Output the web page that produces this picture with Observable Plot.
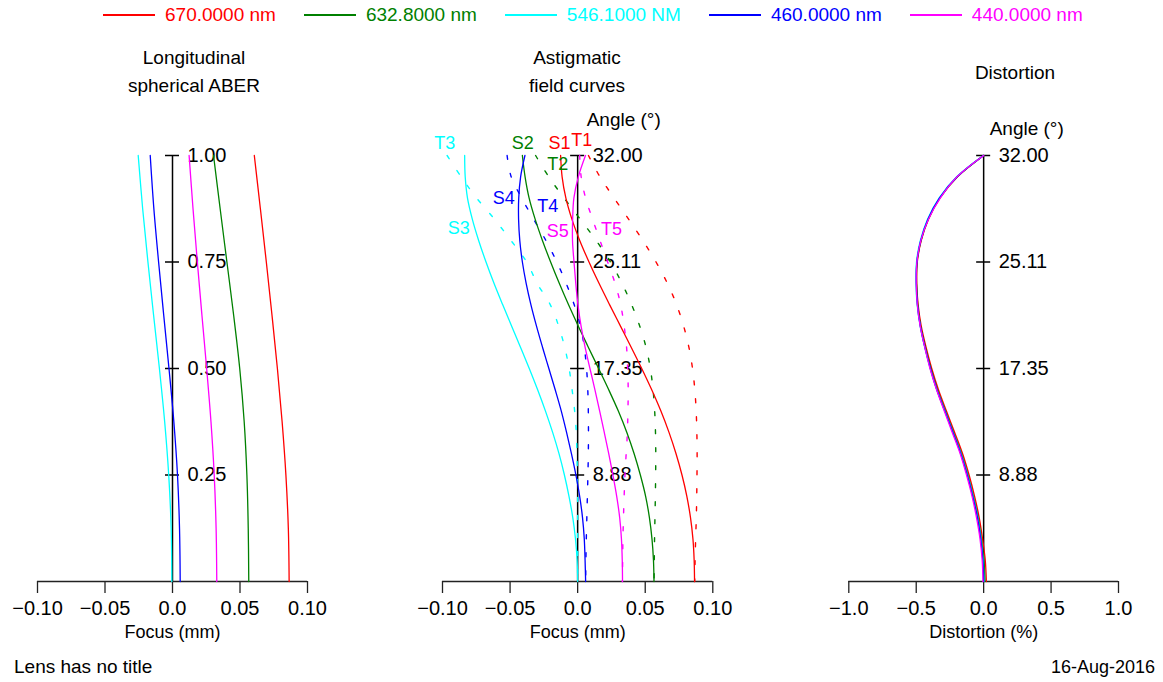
<!DOCTYPE html>
<html><head><meta charset="utf-8">
<script src="https://cdn.jsdelivr.net/npm/d3@7"></script>
<script src="https://cdn.jsdelivr.net/npm/@observablehq/plot@0.6"></script>
<style>
body{margin:0;background:#fff;font-family:"Liberation Sans",Arial,sans-serif;color:#000;}
#page{position:relative;width:1163px;height:682px;overflow:hidden;background:#fff;}
.abs{position:absolute;white-space:nowrap;}
.title{font-size:19px;line-height:28px;text-align:center;width:260px;}
#legend{position:absolute;left:103px;top:3px;height:24px;display:flex;gap:28px;align-items:center;font-size:19px;}
#legend .item{display:flex;align-items:center;}
#legend .swatch{width:52px;height:1.5px;margin-right:10px;}
.plot{position:absolute;top:0;}
</style></head><body><div id="page"></div>
<script>
// ---------- data ----------
const wavelengths = ["670.0000 nm", "632.8000 nm", "546.1000 NM", "460.0000 nm", "440.0000 nm"];
const colors = ["#ff0000", "#008000", "#00ffff", "#0000ff", "#ff00ff"];

// Longitudinal spherical aberration: focus (mm) vs relative pupil height
const pupilFrac = [0, 0.125, 0.25, 0.375, 0.5, 0.625, 0.75, 0.875, 1];
const lsa670 = [0.0864, 0.0858, 0.0840, 0.0812, 0.0777, 0.0737, 0.0695, 0.0651, 0.0606];
const lsa632 = [0.0565, 0.0561, 0.0551, 0.0531, 0.0498, 0.0453, 0.0403, 0.0353, 0.0304];
const lsa546 = [-0.0005, -0.0010, -0.0028, -0.0058, -0.0097, -0.0140, -0.0182, -0.0221, -0.0254];
const lsa460 = [0.0057, 0.0052, 0.0037, 0.0010, -0.0026, -0.0065, -0.0103, -0.0138, -0.0165];
const lsa440 = [0.0328, 0.0323, 0.0309, 0.0285, 0.0253, 0.0218, 0.0184, 0.0152, 0.0123];
const pupilTicks = [0.25, 0.5, 0.75, 1];
const pupilTickLabels = ["0.25", "0.50", "0.75", "1.00"];

// Astigmatic field curves: focus (mm) vs relative field height
const fieldFrac = [1, 0.95, 0.9, 0.85, 0.8, 0.75, 0.7, 0.65, 0.6, 0.55, 0.5, 0.45, 0.4, 0.35, 0.3, 0.25, 0.2, 0.15, 0.1, 0.05, 0];
const S1 = [-0.0126, -0.0115, -0.0087, -0.0042, 0.0016, 0.0084, 0.0158, 0.0236, 0.0316, 0.0396, 0.0474, 0.0548, 0.0616, 0.0676, 0.0728, 0.0772, 0.0808, 0.0835, 0.0853, 0.0862, 0.0865];
const T1 = [0.0080, 0.0165, 0.0270, 0.0378, 0.0483, 0.0580, 0.0664, 0.0732, 0.0784, 0.0823, 0.0850, 0.0867, 0.0877, 0.0882, 0.0884, 0.0883, 0.0881, 0.0878, 0.0873, 0.0869, 0.0866];
const S2 = [-0.0409, -0.0389, -0.0359, -0.0314, -0.0260, -0.0200, -0.0136, -0.0068, 0.0004, 0.0079, 0.0155, 0.0230, 0.0301, 0.0364, 0.0418, 0.0464, 0.0503, 0.0531, 0.0550, 0.0561, 0.0565];
const T2 = [-0.0311, -0.0214, -0.0100, 0.0020, 0.0138, 0.0243, 0.0328, 0.0399, 0.0459, 0.0506, 0.0538, 0.0558, 0.0570, 0.0576, 0.0578, 0.0577, 0.0575, 0.0572, 0.0569, 0.0567, 0.0565];
const S3 = [-0.0836, -0.0832, -0.0815, -0.0779, -0.0732, -0.0678, -0.0619, -0.0555, -0.0489, -0.0423, -0.0358, -0.0296, -0.0238, -0.0185, -0.0138, -0.0098, -0.0064, -0.0036, -0.0016, -0.0004, 0];
const T3 = [-0.0966, -0.0862, -0.0747, -0.0614, -0.0492, -0.0377, -0.0300, -0.0203, -0.0141, -0.0096, -0.0063, -0.0041, -0.0022, -0.0010, -0.0005, -0.0002, 0, 0, 0, 0, 0];
const S4 = [-0.0390, -0.0422, -0.0436, -0.0437, -0.0428, -0.0409, -0.0381, -0.0346, -0.0305, -0.0260, -0.0213, -0.0166, -0.0121, -0.0082, -0.0046, -0.0013, 0.0015, 0.0036, 0.0049, 0.0055, 0.0059];
const T4 = [-0.0522, -0.0492, -0.0414, -0.0325, -0.0234, -0.0154, -0.0085, -0.0026, 0.0021, 0.0049, 0.0066, 0.0075, 0.0079, 0.0080, 0.0079, 0.0076, 0.0072, 0.0068, 0.0064, 0.0061, 0.0059];
const S5 = [0.0058, 0.0005, -0.0028, -0.0037, -0.0038, -0.0027, -0.0014, 0.0002, 0.0025, 0.0055, 0.0091, 0.0128, 0.0163, 0.0197, 0.0230, 0.0261, 0.0289, 0.0311, 0.0324, 0.0330, 0.0332];
const T5 = [0.0015, 0.0026, 0.0059, 0.0111, 0.0166, 0.0222, 0.0277, 0.0318, 0.0344, 0.0362, 0.0370, 0.0374, 0.0372, 0.0368, 0.0359, 0.0350, 0.0344, 0.0339, 0.0335, 0.0333, 0.0331];
const angleTicks = [0.25, 0.5, 0.75, 1];
const angleTickLabels = ["8.88", "17.35", "25.11", "32.00"];
// curve labels (name, wavelength index, focus mm, field fraction)
const curveLabelNames = ["T3", "S2", "S1", "T1", "T2", "S4", "T4", "S3", "S5", "T5"];
const curveLabelColor = [2, 1, 0, 0, 1, 3, 3, 2, 4, 4];
const curveLabelX = [-0.0984, -0.0407, -0.0134, 0.0030, -0.0148, -0.0547, -0.0222, -0.0880, -0.0148, 0.0251];
const curveLabelF = [1.028, 1.028, 1.028, 1.035, 0.979, 0.899, 0.880, 0.829, 0.822, 0.826];

// Distortion (%) vs relative field height
const distFrac = [0, 0.05, 0.1, 0.15, 0.2, 0.25, 0.3, 0.35, 0.4, 0.45, 0.5, 0.55, 0.6, 0.65, 0.7, 0.75, 0.8, 0.85, 0.9, 0.95, 1];
const dist670 = [0.020, 0.012, -0.008, -0.033, -0.067, -0.108, -0.156, -0.215, -0.276, -0.335, -0.385, -0.427, -0.463, -0.486, -0.496, -0.492, -0.463, -0.410, -0.325, -0.194, 0];
const dist632 = [0.010, 0.002, -0.017, -0.041, -0.076, -0.117, -0.165, -0.224, -0.284, -0.343, -0.392, -0.433, -0.468, -0.489, -0.498, -0.494, -0.465, -0.412, -0.326, -0.195, 0];
const dist546 = [0.002, -0.004, -0.020, -0.044, -0.079, -0.120, -0.168, -0.227, -0.287, -0.347, -0.396, -0.437, -0.471, -0.493, -0.502, -0.498, -0.470, -0.417, -0.331, -0.200, -0.002];
const dist460 = [0.000, -0.006, -0.022, -0.046, -0.081, -0.122, -0.170, -0.228, -0.288, -0.347, -0.395, -0.436, -0.470, -0.491, -0.499, -0.495, -0.467, -0.414, -0.328, -0.197, 0];
const dist440 = [-0.005, -0.011, -0.027, -0.053, -0.086, -0.127, -0.174, -0.233, -0.292, -0.349, -0.398, -0.437, -0.471, -0.492, -0.500, -0.495, -0.466, -0.410, -0.322, -0.197, 0];

const focusTicks = [-0.1, -0.05, 0, 0.05, 0.1];
const distTicks = [-1, -0.5, 0, 0.5, 1];

// ---------- helpers ----------
function rowsOf(fracs, values, ci, kind) {
  return values.map((v, i) => ({x: v, y: fracs[i], c: colors[ci], k: kind + ci}));
}
const fmt = digits => d => d === 0 ? "0.0" : (d < 0 ? "\u2212" : "") + Math.abs(d).toFixed(digits);
const FONT = '"Liberation Sans", Arial, sans-serif';

function panel({width, marginLeft, marginRight, xDomain, xTicks, xFormat, xLabel, yTicks, yLabels, solid, dashed = [], extra = []}) {
  const span = xDomain[1] - xDomain[0];
  const half = span * 0.026;
  return Plot.plot({
    width, height: 682, marginTop: 155, marginBottom: 101, marginLeft, marginRight,
    x: {domain: xDomain}, y: {domain: [0, 1], axis: null},
    color: {type: "identity"},
    style: {fontFamily: FONT, fontSize: "20px", color: "#000", background: "transparent", overflow: "visible"},
    marks: [
      Plot.ruleY([0], {stroke: "#222", strokeWidth: 1.3}),
      Plot.axisX(xTicks, {tickSize: 12, tickPadding: 7, tickFormat: xFormat, label: null, stroke: "#222", strokeWidth: 1.3}),
      Plot.ruleX([0], {y1: 0, y2: 1, stroke: "#000", strokeWidth: 1.5}),
      Plot.ruleY(yTicks, {y: d => d, x1: -half, x2: half, stroke: "#000", strokeWidth: 1.5}),
      Plot.text(yTicks, {x: 0, y: d => d, text: (d, i) => yLabels[i], dx: 15, textAnchor: "start", fontSize: 20}),
      Plot.text([xLabel], {frameAnchor: "bottom", dy: 56, fontSize: 18}),
      Plot.line(dashed, {x: "x", y: "y", z: "k", stroke: "c", strokeWidth: 1.4, strokeDasharray: "4,14", curve: "catmull-rom"}),
      Plot.line(solid, {x: "x", y: "y", z: "k", stroke: "c", strokeWidth: 1.3, curve: "catmull-rom"}),
      ...extra
    ]
  });
}

// ---------- page ----------
const page = document.getElementById("page");

// legend
const legend = document.createElement("div");
legend.id = "legend";
wavelengths.forEach((w, i) => {
  const it = document.createElement("div");
  it.className = "item";
  it.innerHTML = `<span class="swatch" style="background:${colors[i]}"></span><span style="color:${colors[i]}">${w}</span>`;
  legend.appendChild(it);
});
page.appendChild(legend);

function addText(html, css, cls = "abs") {
  const d = document.createElement("div");
  d.className = cls;
  d.innerHTML = html;
  Object.assign(d.style, css);
  page.appendChild(d);
}
addText("Longitudinal<br>spherical ABER", {left: (194 - 130) + "px", top: "44px"}, "abs title");
addText("Astigmatic<br>field curves", {left: (577 - 130) + "px", top: "44px"}, "abs title");
addText("Distortion", {left: (1015 - 130) + "px", top: "59px"}, "abs title");
addText("Lens has no title", {left: "14px", top: "655px", fontSize: "19px", lineHeight: "24px"});
addText("16-Aug-2016", {right: "8px", top: "655px", fontSize: "18px", lineHeight: "24px"});

// panel 1
const lsaSeries = [lsa670, lsa632, lsa546, lsa460, lsa440];
const p1 = panel({
  width: 400, marginLeft: 37, marginRight: 93,
  xDomain: [-0.1, 0.1], xTicks: focusTicks, xFormat: fmt(2), xLabel: "Focus (mm)",
  yTicks: pupilTicks, yLabels: pupilTickLabels,
  solid: lsaSeries.flatMap((s, i) => rowsOf(pupilFrac, s, i, "s"))
});
p1.classList.add("plot"); p1.style.left = "0px";
page.appendChild(p1);

// panel 2
const sag = [S1, S2, S3, S4, S5];
const tan = [T1, T2, T3, T4, T5];
const labelRows = curveLabelNames.map((n, i) => ({n, x: curveLabelX[i], y: curveLabelF[i], c: colors[curveLabelColor[i]]}));
const p2 = panel({
  width: 400, marginLeft: 42, marginRight: 87.7,
  xDomain: [-0.1, 0.1], xTicks: focusTicks, xFormat: fmt(2), xLabel: "Focus (mm)",
  yTicks: angleTicks, yLabels: angleTickLabels,
  solid: sag.flatMap((s, i) => rowsOf(fieldFrac, s, i, "s")),
  dashed: tan.flatMap((s, i) => rowsOf(fieldFrac, s, i, "t")),
  extra: [
    Plot.text(labelRows, {x: "x", y: "y", text: "n", fill: "c", fontSize: 18}),
    Plot.text(["Angle (\u00b0)"], {x: 0, y: 1, dx: 9, dy: -36, textAnchor: "start", fontSize: 19})
  ]
});
p2.classList.add("plot"); p2.style.left = "400px";
page.appendChild(p2);

// panel 3
const distSeries = [dist670, dist632, dist546, dist460, dist440];
const p3 = panel({
  width: 363, marginLeft: 48.3, marginRight: 45,
  xDomain: [-1, 1], xTicks: distTicks, xFormat: fmt(1), xLabel: "Distortion (%)",
  yTicks: angleTicks, yLabels: angleTickLabels,
  solid: distSeries.flatMap((s, i) => rowsOf(distFrac, s, i, "s")),
  extra: [
    Plot.text(["Angle (\u00b0)"], {x: 0, y: 1, dx: 6, dy: -27, textAnchor: "start", fontSize: 19})
  ]
});
p3.classList.add("plot"); p3.style.left = "800px";
page.appendChild(p3);
</script></body></html>
